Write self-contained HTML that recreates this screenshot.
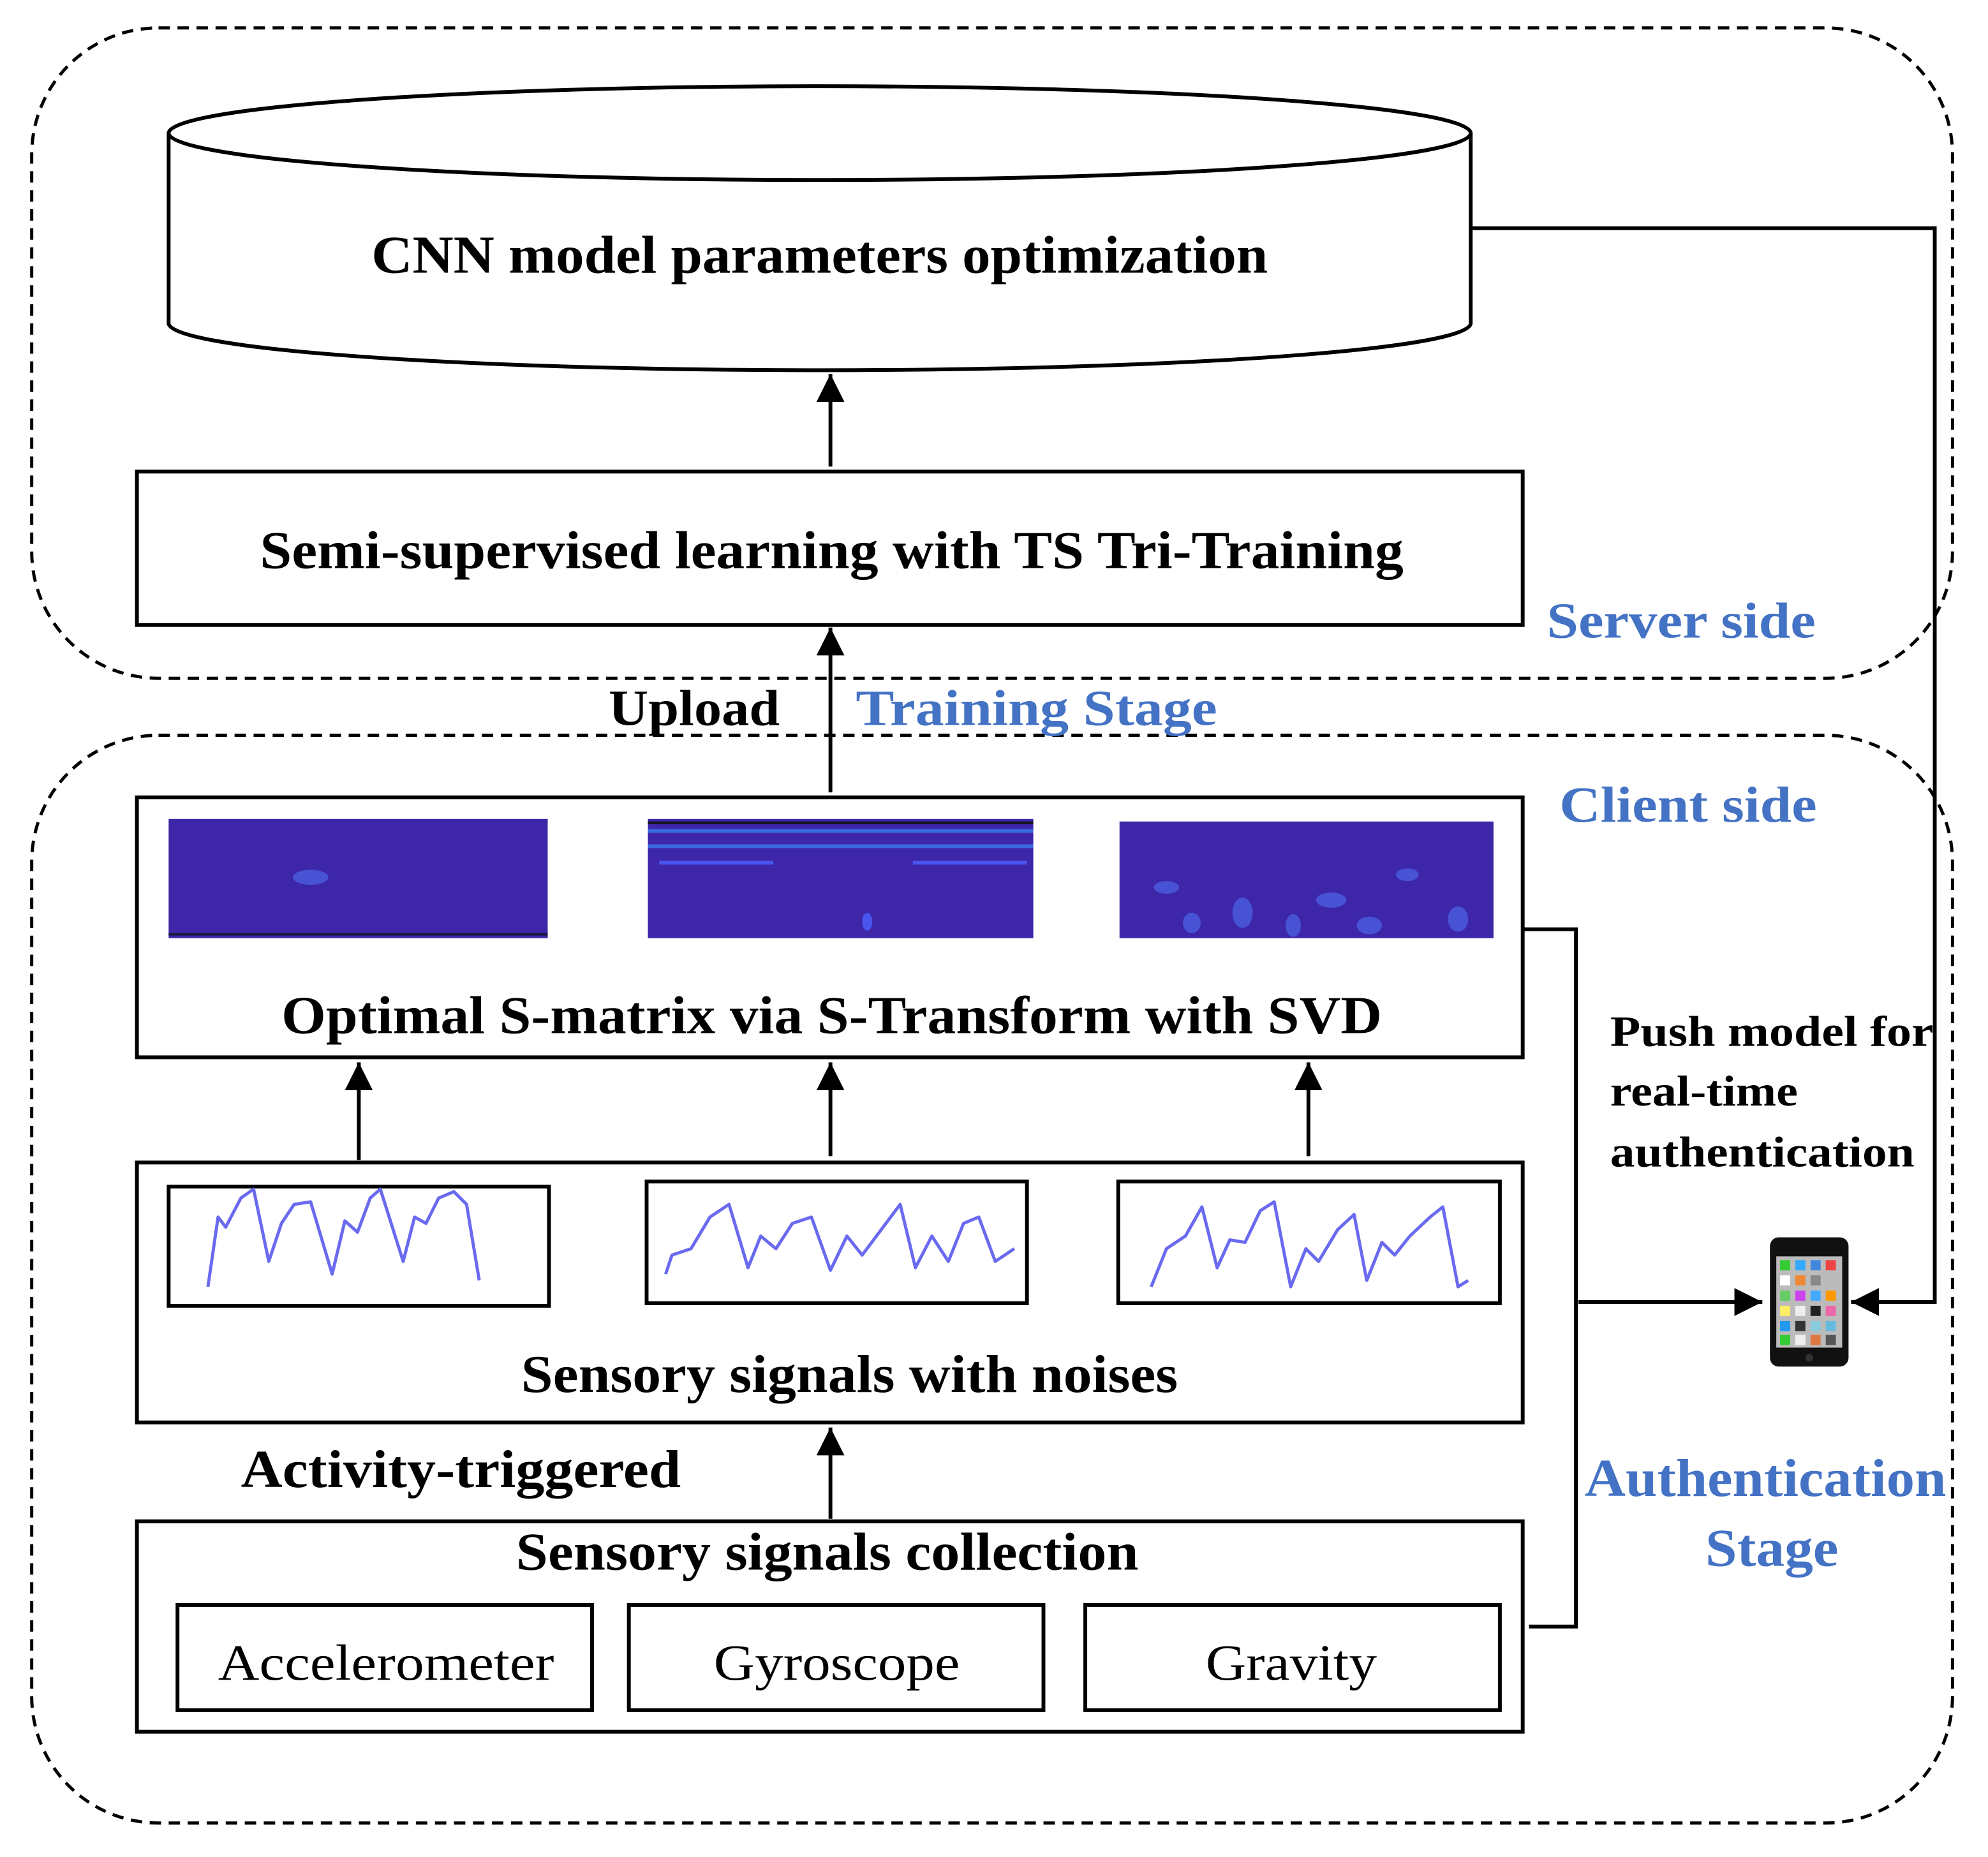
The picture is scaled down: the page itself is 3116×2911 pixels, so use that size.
<!DOCTYPE html>
<html><head><meta charset="utf-8"><style>
html,body{margin:0;padding:0;background:#fff}
svg{display:block}
text{font-family:"Liberation Serif",serif;font-weight:bold}
</style></head><body>
<svg width="3116" height="2911" viewBox="0 0 1568 1464.8" preserveAspectRatio="none" xmlns="http://www.w3.org/2000/svg">
<defs>
<marker id="a2" viewBox="0 0 10 10" refX="10" refY="5" markerWidth="22" markerHeight="22" orient="auto" markerUnits="userSpaceOnUse"><path d="M0,0 L10,5 L0,10 z" fill="#000"/></marker>
</defs>
<rect x="25" y="22" width="1515" height="513" rx="100" fill="none" stroke="#000" stroke-width="2.5" stroke-dasharray="9,6"/>
<rect x="25" y="580" width="1515" height="858" rx="100" fill="none" stroke="#000" stroke-width="2.5" stroke-dasharray="9,6"/>
<path d="M133,105 L133,255 A513,37 0 0 0 1160,255 L1160,105" fill="#fff" stroke="#000" stroke-width="3"/>
<ellipse cx="646.5" cy="105" rx="513.5" ry="37" fill="#fff" stroke="#000" stroke-width="3"/>
<text x="293" y="215" font-size="42" textLength="707" lengthAdjust="spacingAndGlyphs">CNN model parameters optimization</text>
<line x1="655" y1="368" x2="655" y2="295" stroke="#000" stroke-width="3" marker-end="url(#a2)"/>
<rect x="108" y="372" width="1093" height="121" fill="#fff" stroke="#000" stroke-width="3"/>
<text x="205" y="448" font-size="42" textLength="902" lengthAdjust="spacingAndGlyphs">Semi-supervised learning with TS Tri-Training</text>
<line x1="655" y1="625" x2="655" y2="495" stroke="#000" stroke-width="3" marker-end="url(#a2)"/>
<text x="480" y="572" font-size="40" textLength="135" lengthAdjust="spacingAndGlyphs">Upload</text>
<text x="675" y="572" font-size="40" fill="#4472C4" textLength="285" lengthAdjust="spacingAndGlyphs">Training Stage</text>
<text x="1220" y="503" font-size="40" fill="#4472C4" textLength="212" lengthAdjust="spacingAndGlyphs">Server side</text>
<text x="1230" y="648" font-size="40" fill="#4472C4" textLength="203" lengthAdjust="spacingAndGlyphs">Client side</text>
<rect x="108" y="629" width="1093" height="205" fill="#fff" stroke="#000" stroke-width="3"/>
<rect x="133" y="646" width="299" height="94" fill="#3d26a8"/>
<line x1="133" y1="737" x2="432" y2="737" stroke="#1a1a40" stroke-width="2"/>
<rect x="511" y="646" width="304" height="94" fill="#3d26a8"/>
<rect x="511" y="648" width="304" height="2" fill="#111"/>
<rect x="511" y="654" width="304" height="3" fill="#3a6ae0"/>
<rect x="511" y="666" width="304" height="3" fill="#3a6ae0"/>
<rect x="520" y="679" width="90" height="3" fill="#4a55f0"/><rect x="720" y="679" width="90" height="3" fill="#4a55f0"/>
<ellipse cx="684" cy="727" rx="4" ry="7" fill="#4a55f0"/>
<rect x="883" y="648" width="295" height="92" fill="#3d26a8"/>
<g fill="#4a5ee0" opacity="0.8">
<ellipse cx="920" cy="700" rx="10" ry="5"/><ellipse cx="980" cy="720" rx="8" ry="12"/><ellipse cx="1050" cy="710" rx="12" ry="6"/><ellipse cx="1110" cy="690" rx="9" ry="5"/><ellipse cx="1150" cy="725" rx="8" ry="10"/><ellipse cx="1020" cy="730" rx="6" ry="9"/><ellipse cx="940" cy="728" rx="7" ry="8"/><ellipse cx="1080" cy="730" rx="10" ry="7"/><ellipse cx="245" cy="692" rx="14" ry="6"/></g>
<text x="222" y="815" font-size="42" textLength="868" lengthAdjust="spacingAndGlyphs">Optimal S-matrix via S-Transform with SVD</text>
<line x1="283" y1="915" x2="283" y2="838" stroke="#000" stroke-width="3" marker-end="url(#a2)"/>
<line x1="655" y1="912" x2="655" y2="838" stroke="#000" stroke-width="3" marker-end="url(#a2)"/>
<line x1="1032" y1="912" x2="1032" y2="838" stroke="#000" stroke-width="3" marker-end="url(#a2)"/>
<rect x="108" y="917" width="1093" height="205" fill="#fff" stroke="#000" stroke-width="3"/>
<rect x="133" y="936" width="300" height="94" fill="#fff" stroke="#000" stroke-width="3"/>
<rect x="510" y="932" width="300" height="96" fill="#fff" stroke="#000" stroke-width="3"/>
<rect x="882" y="932" width="301" height="96" fill="#fff" stroke="#000" stroke-width="3"/>
<g fill="none" stroke="#6a6af0" stroke-width="2.5" stroke-linejoin="round">
<path d="M164,1015 L172,960 L178,968 L190,945 L200,938 L212,995 L222,965 L232,950 L245,948 L262,1005 L272,963 L282,972 L292,945 L300,938 L318,995 L327,960 L336,965 L346,945 L358,940 L368,950 L378,1010"/>
<path d="M525,1005 L530,990 L545,985 L560,960 L575,950 L590,1000 L600,975 L612,985 L625,965 L640,960 L655,1002 L668,975 L680,990 L695,970 L710,950 L722,1000 L735,975 L748,995 L760,965 L772,960 L785,995 L800,985"/>
<path d="M908,1015 L920,985 L935,975 L948,952 L960,1000 L970,978 L982,980 L994,955 L1005,948 L1018,1015 L1030,985 L1040,995 L1055,970 L1068,958 L1078,1010 L1090,980 L1100,990 L1112,975 L1128,960 L1138,952 L1150,1015 L1158,1010"/>
</g>
<text x="411" y="1098" font-size="42" textLength="518" lengthAdjust="spacingAndGlyphs">Sensory signals with noises</text>
<text x="190" y="1173" font-size="42" textLength="347" lengthAdjust="spacingAndGlyphs">Activity-triggered</text>
<line x1="655" y1="1198" x2="655" y2="1126" stroke="#000" stroke-width="3" marker-end="url(#a2)"/>
<rect x="108" y="1200" width="1093" height="166" fill="#fff" stroke="#000" stroke-width="3"/>
<text x="407" y="1238" font-size="42" textLength="491" lengthAdjust="spacingAndGlyphs">Sensory signals collection</text>
<rect x="140" y="1266" width="327" height="83" fill="#fff" stroke="#000" stroke-width="3"/>
<rect x="496" y="1266" width="327" height="83" fill="#fff" stroke="#000" stroke-width="3"/>
<rect x="856" y="1266" width="327" height="83" fill="#fff" stroke="#000" stroke-width="3"/>
<text x="172" y="1325" font-size="40" style="font-weight:normal" textLength="265" lengthAdjust="spacingAndGlyphs">Accelerometer</text>
<text x="563" y="1325" font-size="40" style="font-weight:normal" textLength="194" lengthAdjust="spacingAndGlyphs">Gyroscope</text>
<text x="951" y="1325" font-size="40" style="font-weight:normal" textLength="135" lengthAdjust="spacingAndGlyphs">Gravity</text>
<polyline points="1201,733 1243,733 1243,1283 1206,1283" fill="none" stroke="#000" stroke-width="3"/>
<line x1="1245" y1="1027" x2="1390" y2="1027" stroke="#000" stroke-width="3" marker-end="url(#a2)"/>
<polyline points="1160,180 1526,180 1526,1027 1460,1027" fill="none" stroke="#000" stroke-width="3" marker-end="url(#a2)"/>
<text x="1270" y="825" font-size="34" textLength="255" lengthAdjust="spacingAndGlyphs">Push model for</text>
<text x="1270" y="872" font-size="34" textLength="148" lengthAdjust="spacingAndGlyphs">real-time</text>
<text x="1270" y="920" font-size="34" textLength="240" lengthAdjust="spacingAndGlyphs">authentication</text>
<text x="1250" y="1180" font-size="42" fill="#4472C4" textLength="285" lengthAdjust="spacingAndGlyphs">Authentication</text>
<text x="1345" y="1235" font-size="42" fill="#4472C4" textLength="105" lengthAdjust="spacingAndGlyphs">Stage</text>
<rect x="1396" y="976" width="62" height="102" rx="7" fill="#111"/>
<rect x="1401" y="991" width="52" height="72" fill="#bbb"/>
<circle cx="1427" cy="1071" r="3" fill="#333"/>
<g>
<rect x="1404" y="994" width="8" height="8" fill="#3c3"/><rect x="1416" y="994" width="8" height="8" fill="#3af"/><rect x="1428" y="994" width="8" height="8" fill="#48d"/><rect x="1440" y="994" width="8" height="8" fill="#e44"/>
<rect x="1404" y="1006" width="8" height="8" fill="#fff"/><rect x="1416" y="1006" width="8" height="8" fill="#e83"/><rect x="1428" y="1006" width="8" height="8" fill="#888"/>
<rect x="1404" y="1018" width="8" height="8" fill="#6c6"/><rect x="1416" y="1018" width="8" height="8" fill="#c4e"/><rect x="1428" y="1018" width="8" height="8" fill="#4af"/><rect x="1440" y="1018" width="8" height="8" fill="#f90"/>
<rect x="1404" y="1030" width="8" height="8" fill="#fe6"/><rect x="1416" y="1030" width="8" height="8" fill="#eee"/><rect x="1428" y="1030" width="8" height="8" fill="#222"/><rect x="1440" y="1030" width="8" height="8" fill="#e6a"/>
<rect x="1404" y="1042" width="8" height="8" fill="#29e"/><rect x="1416" y="1042" width="8" height="8" fill="#333"/><rect x="1428" y="1042" width="8" height="8" fill="#8cd"/><rect x="1440" y="1042" width="8" height="8" fill="#6bd"/>
<rect x="1404" y="1053" width="8" height="8" fill="#3c3"/><rect x="1416" y="1053" width="8" height="8" fill="#eee"/><rect x="1428" y="1053" width="8" height="8" fill="#d74"/><rect x="1440" y="1053" width="8" height="8" fill="#555"/>
</g>
</svg>
</body></html>
